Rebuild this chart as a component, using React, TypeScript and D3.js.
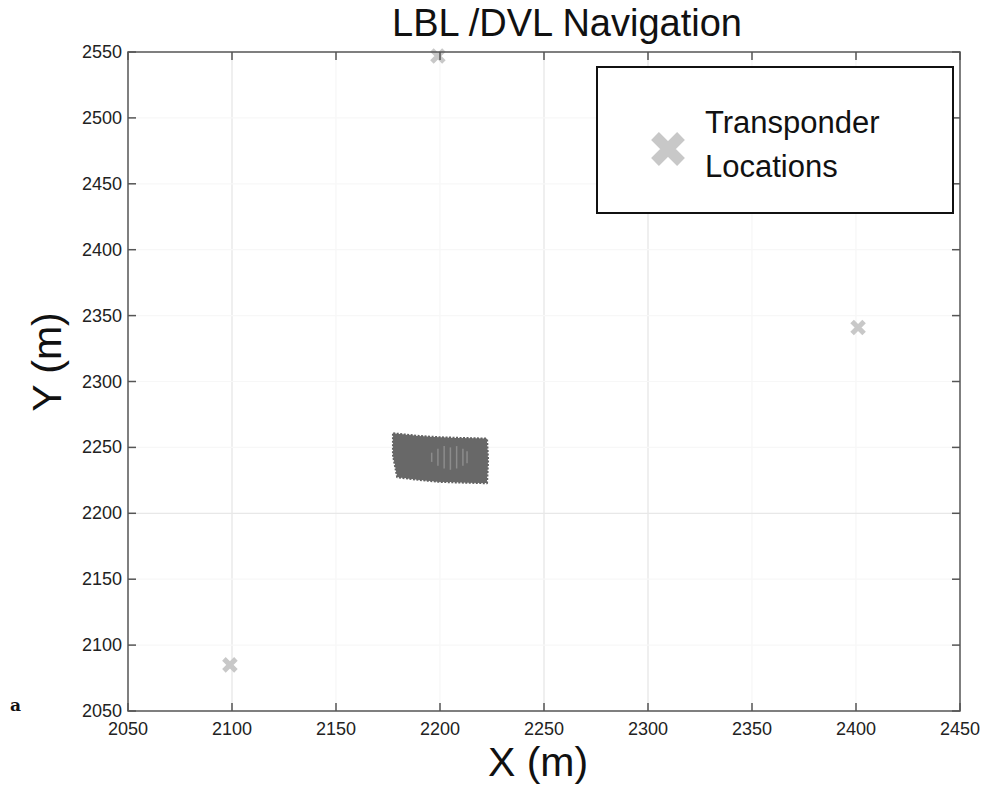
import React from "react";
import * as d3 from "d3";

const xTicks = [2050, 2100, 2150, 2200, 2250, 2300, 2350, 2400, 2450];
const yTicks = [2050, 2100, 2150, 2200, 2250, 2300, 2350, 2400, 2450, 2500, 2550];
const strongGridX = [2100, 2250, 2300];
const strongGridY = [2200];
const transponderX = [2199, 2099, 2401];
const transponderY = [2547, 2085, 2341];
// outline of the dense survey track (LBL/DVL navigation) in metres
const trackOutlineX = [2177.5, 2190, 2200, 2210, 2222.5, 2223, 2222.5, 2210, 2200, 2190, 2179.5, 2177.5];
const trackOutlineY = [2260.5, 2258.5, 2257.5, 2257, 2256.5, 2240, 2223, 2223.5, 2224, 2225.5, 2227.5, 2244];
const streakX = [2196, 2199, 2202, 2205, 2208, 2211, 2213];
const streakTop = [2246, 2249, 2251, 2250, 2251, 2249, 2247];
const streakBot = [2239, 2236, 2234, 2233, 2234, 2236, 2238];

const W = 988, H = 790;
const L = 128, R = 960, T = 52, B = 711;

export default function App() {
  const x = d3.scaleLinear().domain([2050, 2450]).range([L, R]);
  const y = d3.scaleLinear().domain([2050, 2550]).range([B, T]);
  const font = "Liberation Sans, Arial, sans-serif";
  const poly = trackOutlineX.map((v, i) => [x(v), y(trackOutlineY[i])] as [number, number]);
  const polyPath = d3.line().curve(d3.curveLinearClosed)(poly) || "";
  const xMark = (cx: number, cy: number, s: number) =>
    `M${cx - s},${cy - s}L${cx + s},${cy + s}M${cx - s},${cy + s}L${cx + s},${cy - s}`;

  return (
    <svg width={W} height={H} style={{ position: "absolute", left: 0, top: 0, background: "#fff" }}>
      <rect width={W} height={H} fill="#fff" />
      {/* grid */}
      {xTicks.slice(1, -1).map((t) => (
        <line key={"gx" + t} x1={x(t)} x2={x(t)} y1={T} y2={B}
          stroke={strongGridX.includes(t) ? "#e5e5e5" : "#f6f6f6"} strokeWidth={1.2} />
      ))}
      {yTicks.slice(1, -1).map((t) => (
        <line key={"gy" + t} x1={L} x2={R} y1={y(t)} y2={y(t)}
          stroke={strongGridY.includes(t) ? "#e8e8e8" : "#f7f7f7"} strokeWidth={1.2} />
      ))}
      {/* track */}
      <path d={polyPath} fill="#686868" stroke="#626262" strokeWidth={2.5} strokeLinejoin="round" strokeDasharray="2 1.5" />
      <path d={polyPath} fill="#686868" stroke="none" />
      {streakX.map((v, i) => (
        <line key={"s" + i} x1={x(v)} x2={x(v)} y1={y(streakTop[i])} y2={y(streakBot[i])} stroke="#8c8c8c" strokeWidth={1.5} />
      ))}
      {/* transponders */}
      {transponderX.map((v, i) => (
        <path key={"tp" + i} d={xMark(x(v), y(transponderY[i]), 6)} stroke="#c8c8c8" strokeWidth={5} fill="none" />
      ))}
      {/* axes box */}
      <rect x={L} y={T} width={R - L} height={B - T} fill="none" stroke="#555" strokeWidth={1.5} />
      {xTicks.map((t) => (
        <g key={"xt" + t}>
          <line x1={x(t)} x2={x(t)} y1={B} y2={B - 8} stroke="#555" strokeWidth={1.5} />
          <line x1={x(t)} x2={x(t)} y1={T} y2={T + 8} stroke="#555" strokeWidth={1.5} />
          <text x={x(t)} y={B + 24} textAnchor="middle" fontFamily={font} fontSize={18} fill="#222">{t}</text>
        </g>
      ))}
      {yTicks.map((t) => (
        <g key={"yt" + t}>
          <line x1={L} x2={L + 8} y1={y(t)} y2={y(t)} stroke="#555" strokeWidth={1.5} />
          <line x1={R} x2={R - 8} y1={y(t)} y2={y(t)} stroke="#555" strokeWidth={1.5} />
          <text x={L - 6} y={y(t) + 6} textAnchor="end" fontFamily={font} fontSize={18} fill="#222">{t}</text>
        </g>
      ))}
      {/* legend */}
      <rect x={597} y={67} width={356} height={146} fill="#fff" stroke="#111" strokeWidth={2} />
      <path d={xMark(668, 149, 13)} stroke="#c8c8c8" strokeWidth={11} fill="none" />
      <text x={705} y={133} fontFamily={font} fontSize={31} fill="#111">Transponder</text>
      <text x={705} y={177} fontFamily={font} fontSize={31} fill="#111">Locations</text>
      {/* titles */}
      <text x={567} y={36} textAnchor="middle" fontFamily={font} fontSize={38} fill="#111">LBL /DVL Navigation</text>
      <text x={538} y={776} textAnchor="middle" fontFamily={font} fontSize={41} fill="#111">X (m)</text>
      <text transform={`translate(61,362) rotate(-90)`} textAnchor="middle" fontFamily={font} fontSize={41} fill="#111">Y (m)</text>
      <text x={10} y={711} fontFamily="DejaVu Serif, serif" fontWeight="bold" fontSize={17} fill="#111">a</text>
    </svg>
  );
}
